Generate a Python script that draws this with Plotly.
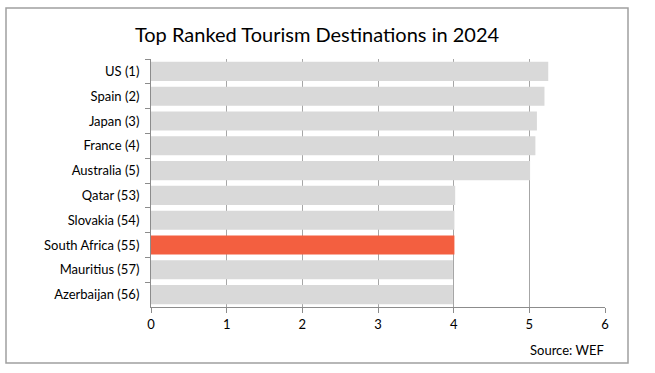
import plotly.graph_objects as go

categories = ["US (1)", "Spain (2)", "Japan (3)", "France (4)", "Australia (5)",
              "Qatar (53)", "Slovakia (54)", "South Africa (55)", "Mauritius (57)", "Azerbaijan (56)"]
scores = [5.25, 5.20, 5.10, 5.08, 5.01, 4.02, 4.01, 4.01, 3.99, 3.99]
highlight = "South Africa (55)"
x_ticks = [0, 1, 2, 3, 4, 5, 6]

colors = ["#F35F40" if c == highlight else "#D9D9D9" for c in categories]

fig = go.Figure(go.Bar(
    x=scores, y=categories, orientation="h",
    marker=dict(color=colors, line=dict(width=0)),
    width=0.77,
))

W, H = 655, 373
L, R, T, B = 151, 50, 59, 66
pw, ph = W - L - R, H - T - B

def px_x(p):
    return (p - L) / pw

def px_y(p):
    return (H - B - p) / ph

fig.update_layout(
    width=W, height=H,
    margin=dict(l=L, r=R, t=T, b=B),
    paper_bgcolor="white", plot_bgcolor="white",
    font=dict(family="Lato, Open Sans, sans-serif", size=13, color="#000000"),
    title=dict(text="Top Ranked Tourism Destinations in 2024",
               x=0.484, xanchor="center", y=0.905, yanchor="middle",
               font=dict(size=20, color="#000000")),
    showlegend=False,
    bargap=0.23,
    xaxis=dict(range=[0, 6], tickvals=x_ticks, showgrid=True, gridcolor="#A6A6A6",
               gridwidth=1, zeroline=False, showline=True, linecolor="#8C8C8C",
               ticks="outside", ticklen=5, tickcolor="#8C8C8C", fixedrange=True,
               tickfont=dict(size=13)),
    yaxis=dict(autorange="reversed", showline=True, linecolor="#8C8C8C",
               ticks="outside", ticklen=5, tickcolor="#8C8C8C", tickson="boundaries",
               showgrid=False, ticklabelstandoff=8, tickfont=dict(size=13),
               fixedrange=True),
    shapes=[dict(type="rect", xref="paper", yref="paper",
                 x0=px_x(6), x1=px_x(628), y0=px_y(363), y1=px_y(8),
                 line=dict(color="#A0A0A0", width=1.5), fillcolor="rgba(0,0,0,0)", layer="below")],
    annotations=[dict(text="Source: WEF", xref="paper", yref="paper",
                      x=px_x(606), y=px_y(350), xanchor="right", yanchor="middle",
                      showarrow=False, font=dict(size=13, color="#000000"))],
)

fig.write_html("out.html", config={"displayModeBar": False},
               post_script="document.body.style.margin='0';document.body.style.overflow='hidden';")
